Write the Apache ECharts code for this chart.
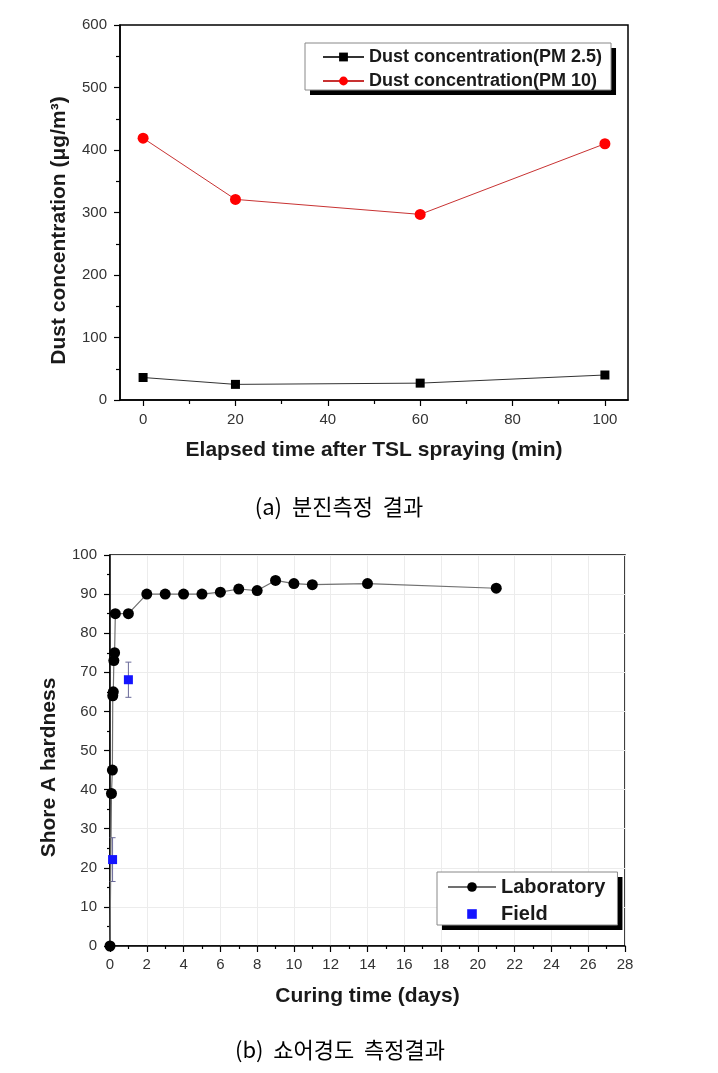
<!DOCTYPE html>
<html>
<head>
<meta charset="utf-8">
<script src="https://cdn.jsdelivr.net/npm/echarts@6/dist/echarts.min.js"></script>
<style>
html,body{margin:0;padding:0;background:#fff;}
#c{width:718px;height:1073px;}
</style>
</head>
<body>
<div id="c"></div>
<script>
// ---- Chart (a): dust concentration ----
const topTimes = [0, 20, 60, 100];
const pm25 = [36, 25, 27, 40];
const pm10 = [419, 321, 297, 410];
const topXTicks = [0, 20, 40, 60, 80, 100];
const topXMinorTicks = [10, 30, 50, 70, 90];
const topSeriesNames = ['Dust concentration(PM 2.5)', 'Dust concentration(PM 10)'];

// ---- Chart (b): Shore A hardness ----
const labTime = [0, 0.08, 0.13, 0.15, 0.18, 0.21, 0.25, 0.29, 1, 2, 3, 4, 5, 6, 7, 8, 9, 10, 11, 14, 21];
const labHard = [0, 39, 45, 64, 65, 73, 75, 85, 85, 90, 90, 90, 90, 90.5, 91.3, 90.9, 93.5, 92.7, 92.4, 92.7, 91.5];
const labErr  = [0, 0, 0, 0, 0, 0, 0, 0, 0, 0, 0, 0, 0.3, 1.0, 1.1, 0.4, 0.4, 1.0, 1.0, 1.0, 0];
const fieldTime = [0.14, 1];
const fieldHard = [22.1, 68.1];
const fieldErr  = [5.6, 4.5];
const bottomSeriesNames = ['Laboratory', 'Field'];

const captions = ['(a)  분진측정  결과', '(b)  쇼어경도  측정결과'];

const FONT = 'Liberation Sans, Arial, sans-serif';
const KFONT = '"Noto Sans CJK KR", sans-serif';

function errRenderer(color) {
  return function (params, api) {
    const x = api.value(0), y = api.value(1), e = api.value(2);
    if (!e) return null;
    const t = api.coord([x, y + e]);
    const b = api.coord([x, y - e]);
    const w = 3;
    const st = { stroke: color, lineWidth: 1 };
    return {
      type: 'group',
      children: [
        { type: 'line', shape: { x1: t[0], y1: t[1], x2: b[0], y2: b[1] }, style: st },
        { type: 'line', shape: { x1: t[0] - w, y1: t[1], x2: t[0] + w, y2: t[1] }, style: st },
        { type: 'line', shape: { x1: b[0] - w, y1: b[1], x2: b[0] + w, y2: b[1] }, style: st }
      ]
    };
  };
}

const axisLine = { show: true, onZero: false, lineStyle: { color: '#000', width: 1.5 } };
const tickLabel = { color: '#333', fontFamily: FONT, fontSize: 15 };
const nameStyle = { color: '#1a1a1a', fontFamily: FONT, fontWeight: 'bold', fontSize: 21 };

function makeLegend(names, left, top, opts, isShadow) {
  const base = {
    data: names, orient: 'vertical',
    left: left + (isShadow ? 5 : 0), top: top + (isShadow ? 5 : 0),
    itemWidth: opts.itemWidth, itemHeight: opts.itemHeight, itemGap: opts.itemGap,
    padding: opts.padding,
    selectedMode: false,
    textStyle: { color: '#1a1a1a', fontFamily: FONT, fontWeight: 'bold', fontSize: opts.fontSize }
  };
  if (isShadow) {
    base.z = 3;
    base.backgroundColor = '#000';
    base.borderWidth = 0;
    base.textStyle.color = 'rgba(0,0,0,0)';
    base.itemStyle = { opacity: 0 };
    base.lineStyle = { opacity: 0 };
  } else {
    base.z = 5;
    base.backgroundColor = '#fff';
    base.borderColor = '#888';
    base.borderWidth = 1;
  }
  return base;
}
const topLegendOpts = { itemWidth: 41, itemHeight: 11, itemGap: 6, padding: [5, 9, 0, 17], fontSize: 18 };
const botLegendOpts = { itemWidth: 48, itemHeight: 12, itemGap: 7, padding: [5, 12, 1, 10], fontSize: 20 };

const chart = echarts.init(document.getElementById('c'), null, { renderer: 'canvas' });
chart.setOption({
  animation: false,
  backgroundColor: '#fff',
  grid: [
    { left: 120, top: 25, width: 508, height: 375, show: true, borderColor: '#000', borderWidth: 1.5, backgroundColor: 'transparent' },
    { left: 110, top: 555, width: 515, height: 391, show: true, borderColor: '#000', borderWidth: 1.5, backgroundColor: 'transparent' }
  ],
  xAxis: [
    {
      gridIndex: 0, type: 'value', min: -5, max: 105, position: 'bottom',
      name: 'Elapsed time after TSL spraying (min)', nameLocation: 'middle', nameGap: 40,
      nameTextStyle: nameStyle,
      axisLine: axisLine,
      axisTick: { show: true, length: 6, lineStyle: { color: '#000', width: 1.2 }, customValues: topXTicks },
      axisLabel: Object.assign({ margin: 12, customValues: topXTicks }, tickLabel),
      splitLine: { show: false }
    },
    {
      gridIndex: 0, type: 'value', min: -5, max: 105, position: 'bottom',
      axisLine: { show: false, onZero: false },
      axisTick: { show: true, length: 4, lineStyle: { color: '#000', width: 1.2 }, customValues: topXMinorTicks },
      axisLabel: { show: false, customValues: topXMinorTicks },
      splitLine: { show: false }
    },
    {
      gridIndex: 1, type: 'value', min: 0, max: 28, interval: 2, position: 'bottom',
      name: 'Curing time (days)', nameLocation: 'middle', nameGap: 40,
      nameTextStyle: nameStyle,
      axisLine: axisLine,
      axisTick: { show: true, length: 6, lineStyle: { color: '#000', width: 1.2 } },
      minorTick: { show: true, splitNumber: 2, length: 3, lineStyle: { color: '#000', width: 1.2 } },
      axisLabel: Object.assign({ margin: 11 }, tickLabel),
      splitLine: { show: true, lineStyle: { color: '#ececec', width: 1 } }
    }
  ],
  yAxis: [
    {
      gridIndex: 0, type: 'value', min: 0, max: 600, interval: 100,
      name: 'Dust concentration (μg/m³)', nameLocation: 'middle', nameGap: 50,
      nameTextStyle: Object.assign({ padding: [0, 36, 0, 0] }, nameStyle),
      axisLine: axisLine,
      axisTick: { show: true, length: 6, lineStyle: { color: '#000', width: 1.2 } },
      minorTick: { show: true, splitNumber: 2, length: 4, lineStyle: { color: '#000', width: 1.2 } },
      axisLabel: Object.assign({ margin: 13 }, tickLabel),
      splitLine: { show: false }
    },
    {
      gridIndex: 1, type: 'value', min: 0, max: 100, interval: 10,
      name: 'Shore A hardness', nameLocation: 'middle', nameGap: 50,
      nameTextStyle: Object.assign({ padding: [0, 34, 0, 0] }, nameStyle),
      axisLine: axisLine,
      axisTick: { show: true, length: 6, lineStyle: { color: '#000', width: 1.2 } },
      minorTick: { show: true, splitNumber: 2, length: 3, lineStyle: { color: '#000', width: 1.2 } },
      axisLabel: Object.assign({ margin: 13 }, tickLabel),
      splitLine: { show: true, lineStyle: { color: '#ececec', width: 1 } }
    }
  ],
  legend: [
    makeLegend(topSeriesNames, 305, 43, topLegendOpts, true),
    makeLegend(topSeriesNames, 305, 43, topLegendOpts, false),
    makeLegend(bottomSeriesNames, 437, 872, botLegendOpts, true),
    makeLegend(bottomSeriesNames, 437, 872, botLegendOpts, false)
  ],
  series: [
    {
      name: topSeriesNames[0], type: 'line', xAxisIndex: 0, yAxisIndex: 0,
      data: topTimes.map((t, i) => [t, pm25[i]]),
      symbol: 'rect', symbolSize: 9,
      itemStyle: { color: '#000' },
      lineStyle: { color: '#333', width: 1 }
    },
    {
      name: topSeriesNames[1], type: 'line', xAxisIndex: 0, yAxisIndex: 0,
      data: topTimes.map((t, i) => [t, pm10[i]]),
      symbol: 'circle', symbolSize: 11,
      itemStyle: { color: '#ff0000' },
      lineStyle: { color: '#c83232', width: 1 }
    },
    {
      type: 'custom', xAxisIndex: 2, yAxisIndex: 1, z: 1,
      data: labTime.map((t, i) => [t, labHard[i], labErr[i]]),
      encode: { x: 0, y: 1 },
      renderItem: errRenderer('#666'),
      clip: false
    },
    {
      name: bottomSeriesNames[0], type: 'line', xAxisIndex: 2, yAxisIndex: 1, z: 3,
      data: labTime.map((t, i) => [t, labHard[i]]),
      symbol: 'circle', symbolSize: 11,
      itemStyle: { color: '#000' },
      lineStyle: { color: '#707070', width: 1.2 },
      clip: false
    },
    {
      type: 'custom', xAxisIndex: 2, yAxisIndex: 1, z: 2,
      data: fieldTime.map((t, i) => [t, fieldHard[i], fieldErr[i]]),
      encode: { x: 0, y: 1 },
      renderItem: errRenderer('#6a6a9a'),
      clip: false
    },
    {
      name: bottomSeriesNames[1], type: 'line', xAxisIndex: 2, yAxisIndex: 1, z: 4,
      data: fieldTime.map((t, i) => [t, fieldHard[i]]),
      symbol: 'rect', symbolSize: 9,
      itemStyle: { color: '#1414ff' },
      lineStyle: { width: 0, opacity: 0 },
      clip: false
    }
  ],
  graphic: [
    { type: 'text', x: 339, y: 507, style: { text: captions[0], font: '22px ' + KFONT, fill: '#000', align: 'center', verticalAlign: 'middle' } },
    { type: 'text', x: 340, y: 1050, style: { text: captions[1], font: '22px ' + KFONT, fill: '#000', align: 'center', verticalAlign: 'middle' } }
  ]
});
</script>
</body>
</html>
